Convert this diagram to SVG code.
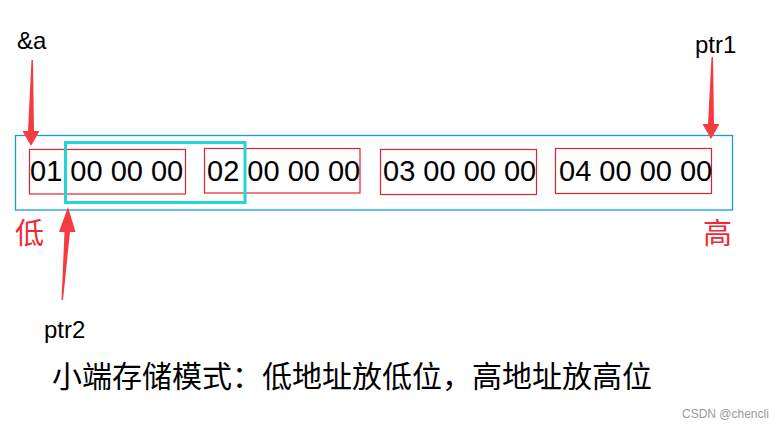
<svg xmlns="http://www.w3.org/2000/svg" width="784" height="429" viewBox="0 0 784 429">
<style>
.lat{font-family:"Liberation Sans",Arial,sans-serif;fill:#000}
.num{font-size:29px}
.lbl{font-size:24px}
.cjk{font-family:"Noto Sans CJK SC","Microsoft YaHei",sans-serif}
.byte{fill:none;stroke:#e8202a;stroke-width:1.2}
.arrow{fill:#f53b3f}
</style>
<rect width="784" height="429" fill="#fff"/>
<g id="memory">
<rect x="15.5" y="135.5" width="717" height="74.5" fill="none" stroke="#1a9ad6" stroke-width="1.3"/>
</g>
<g id="word1">
<rect class="byte" x="29.5" y="149.5" width="156" height="44.5"/>
<text class="lat num" x="30" y="181">01 00 00 00</text>
</g>
<g id="word2">
<rect class="byte" x="204.5" y="148.5" width="155.5" height="44.5"/>
<text class="lat num" x="207" y="181">02 00 00 00</text>
</g>
<g id="word3">
<rect class="byte" x="380.5" y="149.5" width="156" height="45"/>
<text class="lat num" x="383" y="181">03 00 00 00</text>
</g>
<g id="word4">
<rect class="byte" x="555.5" y="148.5" width="156" height="45"/>
<text class="lat num" x="559" y="181">04 00 00 00</text>
</g>
<g id="ptr2-range">
<rect x="65.5" y="142.5" width="179.5" height="60" fill="none" stroke="#22d6d6" stroke-width="3"/>
</g>
<g id="label-a"><text class="lat lbl" x="17" y="49">&amp;a</text></g>
<g id="label-ptr1"><text class="lat lbl" x="695" y="53">ptr1</text></g>
<g id="label-ptr2"><text class="lat lbl" x="44" y="338">ptr2</text></g>
<g id="label-low"><text class="cjk" x="15" y="244" font-size="29" fill="#ee2a36">低</text></g>
<g id="label-high"><text class="cjk" x="703" y="244" font-size="29" fill="#ee2a36">高</text></g>
<g id="caption"><text class="cjk" x="52" y="387" font-size="30" fill="#000">小端存储模式：低地址放低位，高地址放高位</text></g>
<g id="connectors">
<polygon class="arrow" points="31.5,60 33,60 34,131 39.5,131 31,146 22.5,131 28,131"/>
<polygon class="arrow" points="711.5,57 713,57 714,124 719.5,124 711,139 702.5,124 708,124"/>
<polygon class="arrow" points="61.5,300 63,300 70,232 75.5,232 68,207 59,232 64.5,232"/>
</g>
<text x="682" y="418" font-family="Liberation Sans,Arial,sans-serif" font-size="12" fill="#9a9a9a">CSDN @chencli</text>
</svg>
